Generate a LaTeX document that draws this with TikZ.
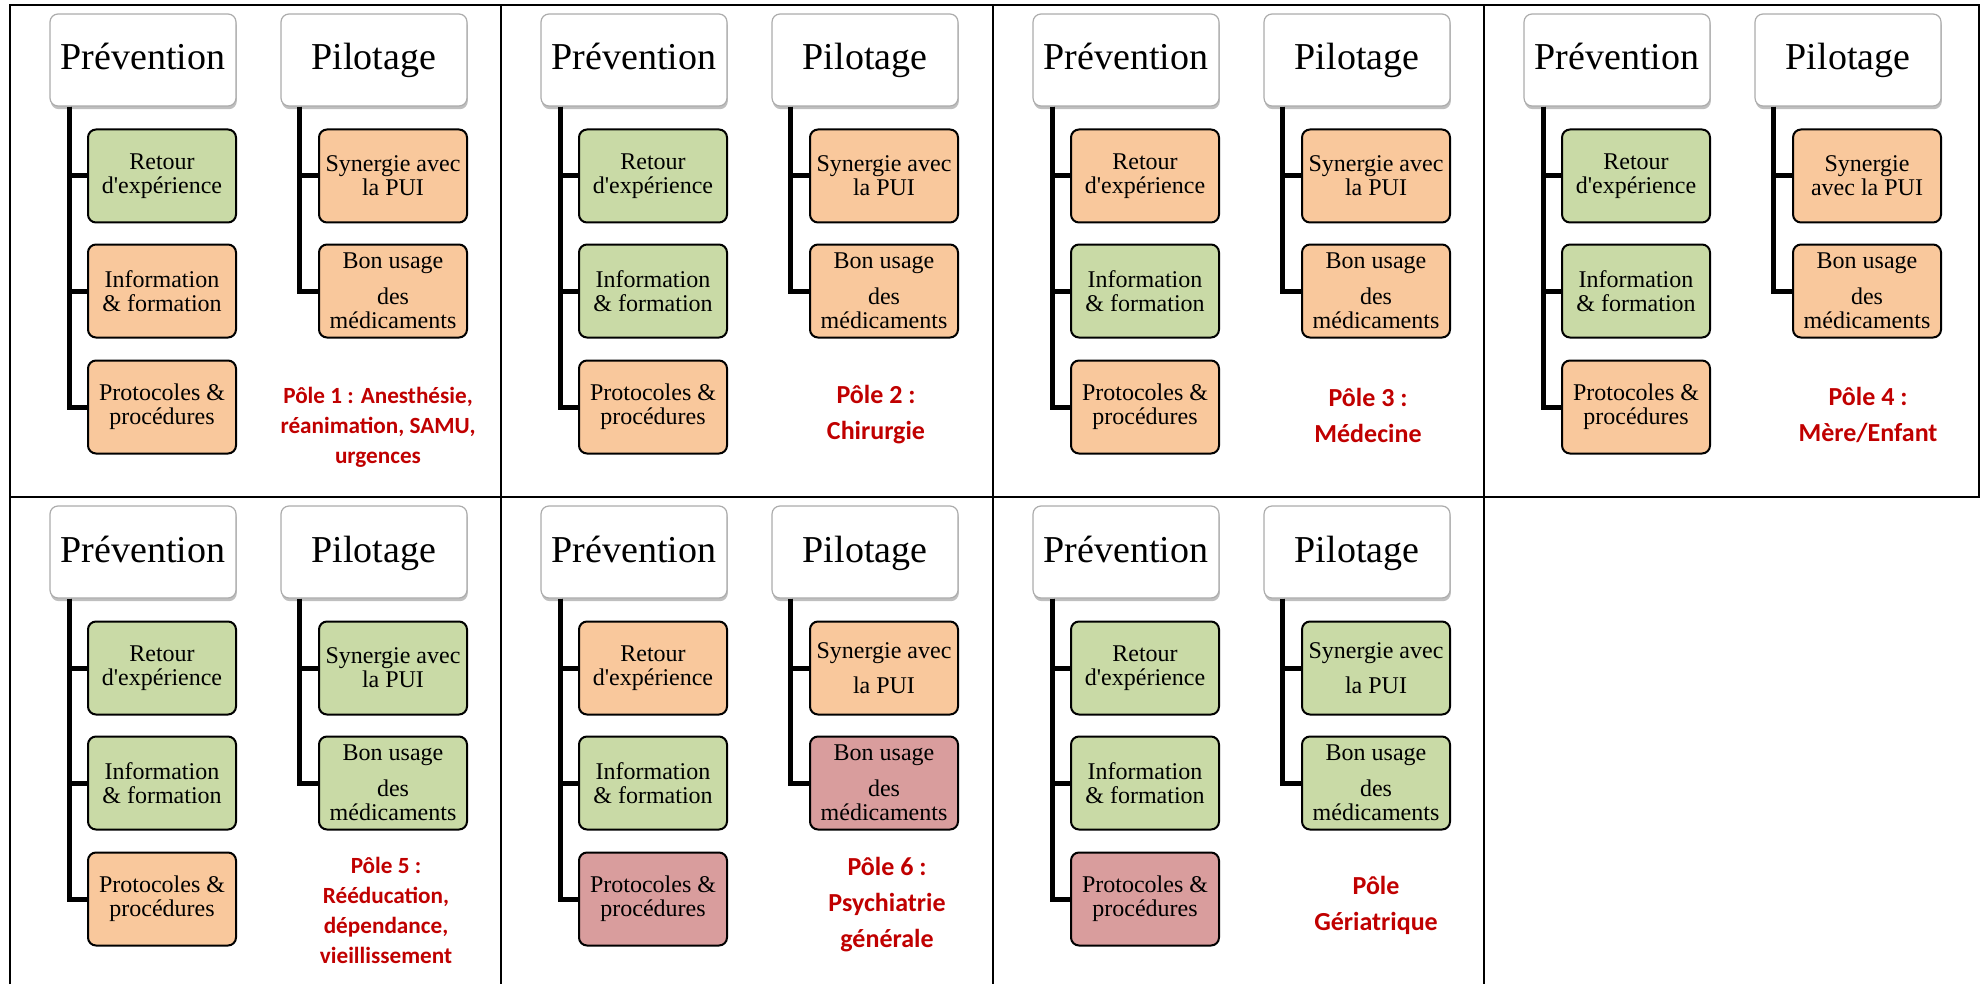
\documentclass[tikz,border=0pt]{standalone}
\usepackage{fontspec}
\setmainfont{Liberation Serif}
\newfontfamily\polefont{Carlito}
\usepackage{tikz}
\usetikzlibrary{shadows}

\definecolor{okgreen}{HTML}{C9DAA6}
\definecolor{midorange}{HTML}{F9C89C}
\definecolor{badred}{HTML}{D99D9D}
\definecolor{polered}{HTML}{C00000}

\tikzset{
	tableline/.style={line width=0.8pt},
	titlebox/.style={draw=gray!65,line width=0.6pt,fill=white,rounded corners=4pt,
		minimum width=93pt,minimum height=46pt,inner sep=1pt,text height=13pt,text depth=3pt,
		font=\fontsize{19}{20}\selectfont,
		drop shadow={shadow xshift=0.4pt,shadow yshift=-1.6pt,fill=black,opacity=0.25}},
	subbox/.style={draw=black,line width=1pt,rounded corners=4pt,align=center,
		minimum width=74pt,minimum height=46.5pt,inner sep=1pt,
		font=\fontsize{12}{12}\selectfont},
	trunk/.style={line width=2.5pt},
	polelabel/.style={text=polered,align=center},
	labelbig/.style={polelabel,font=\polefont\bfseries\fontsize{13}{18}\selectfont},
	labelsmall/.style={polelabel,font=\polefont\bfseries\fontsize{11.6}{15}\selectfont}
}

% #1 name, #2 origin, #3-#7 fills, #8 synergie text
\newcommand{\polecell}[8]{%
	\begin{scope}[shift={#2}]
		\node[titlebox] (#1-prev) at (133,55) {Prévention};
		\node[titlebox] (#1-pil) at (364,55) {Pilotage};
		\node[subbox,fill=#3] (#1-ret) at (152,171) {Retour\\d\textquotesingle expérience};
		\node[subbox,fill=#4] (#1-inf) at (152,286) {Information\\\& formation};
		\node[subbox,fill=#5] (#1-pro) at (152,402) {Protocoles \&\\procédures};
		\node[subbox,fill=#6] (#1-syn) at (383,171) {#8};
		\node[subbox,fill=#7] (#1-bon) at (383,286) {Bon usage\\[6pt]des\\médicaments};
		\draw[trunk] ([xshift=10pt]#1-prev.south west) |- (#1-ret.west);
		\draw[trunk] ([xshift=10pt]#1-prev.south west) |- (#1-inf.west);
		\draw[trunk] ([xshift=10pt]#1-prev.south west) |- (#1-pro.west);
		\draw[trunk] ([xshift=9.5pt]#1-pil.south west) |- (#1-syn.west);
		\draw[trunk] ([xshift=9.5pt]#1-pil.south west) |- (#1-bon.west);
	\end{scope}}

\begin{document}
\begin{tikzpicture}[x=0.5pt,y=-0.5pt]
	\useasboundingbox (0,0) rectangle (1984,984);
	
	% table
	\draw[tableline] (10,984)--(10,5)--(1979,5)--(1979,497)--(10,497);
	\draw[tableline] (501,5)--(501,984);
	\draw[tableline] (993,5)--(993,984);
	\draw[tableline] (1484,5)--(1484,984);
	
	\polecell{p1}{(10,5)}{okgreen}{midorange}{midorange}{midorange}{midorange}{Synergie avec\\la PUI}
	\polecell{p2}{(501,5)}{okgreen}{okgreen}{midorange}{midorange}{midorange}{Synergie avec\\la PUI}
	\polecell{p3}{(993,5)}{midorange}{okgreen}{midorange}{midorange}{midorange}{Synergie avec\\la PUI}
	\polecell{p4}{(1484,5)}{okgreen}{okgreen}{midorange}{midorange}{midorange}{Synergie\\avec la PUI}
	\polecell{p5}{(10,497)}{okgreen}{okgreen}{midorange}{okgreen}{okgreen}{Synergie avec\\la PUI}
	\polecell{p6}{(501,497)}{midorange}{okgreen}{badred}{midorange}{badred}{Synergie avec\\[5.5pt]la PUI}
	\polecell{p7}{(993,497)}{okgreen}{okgreen}{badred}{okgreen}{okgreen}{Synergie avec\\[5.5pt]la PUI}
	
	\node[labelsmall] (p1-lab) at (378,427) {Pôle 1 : Anesthésie,\\réanimation, SAMU,\\urgences};
	\node[labelbig] (p2-lab) at (876,415) {Pôle 2 :\\Chirurgie};
	\node[labelbig] (p3-lab) at (1368,415) {Pôle 3 :\\Médecine};
	\node[labelbig] (p4-lab) at (1868,415) {Pôle 4 :\\Mère/Enfant};
	\node[labelsmall] (p5-lab) at (386,910) {Pôle 5 :\\Rééducation,\\dépendance,\\vieillissement};
	\node[labelbig] (p6-lab) at (887,905) {Pôle 6 :\\Psychiatrie\\générale};
	\node[labelbig] (p7-lab) at (1376,905) {Pôle\\Gériatrique};
\end{tikzpicture}
\end{document}
